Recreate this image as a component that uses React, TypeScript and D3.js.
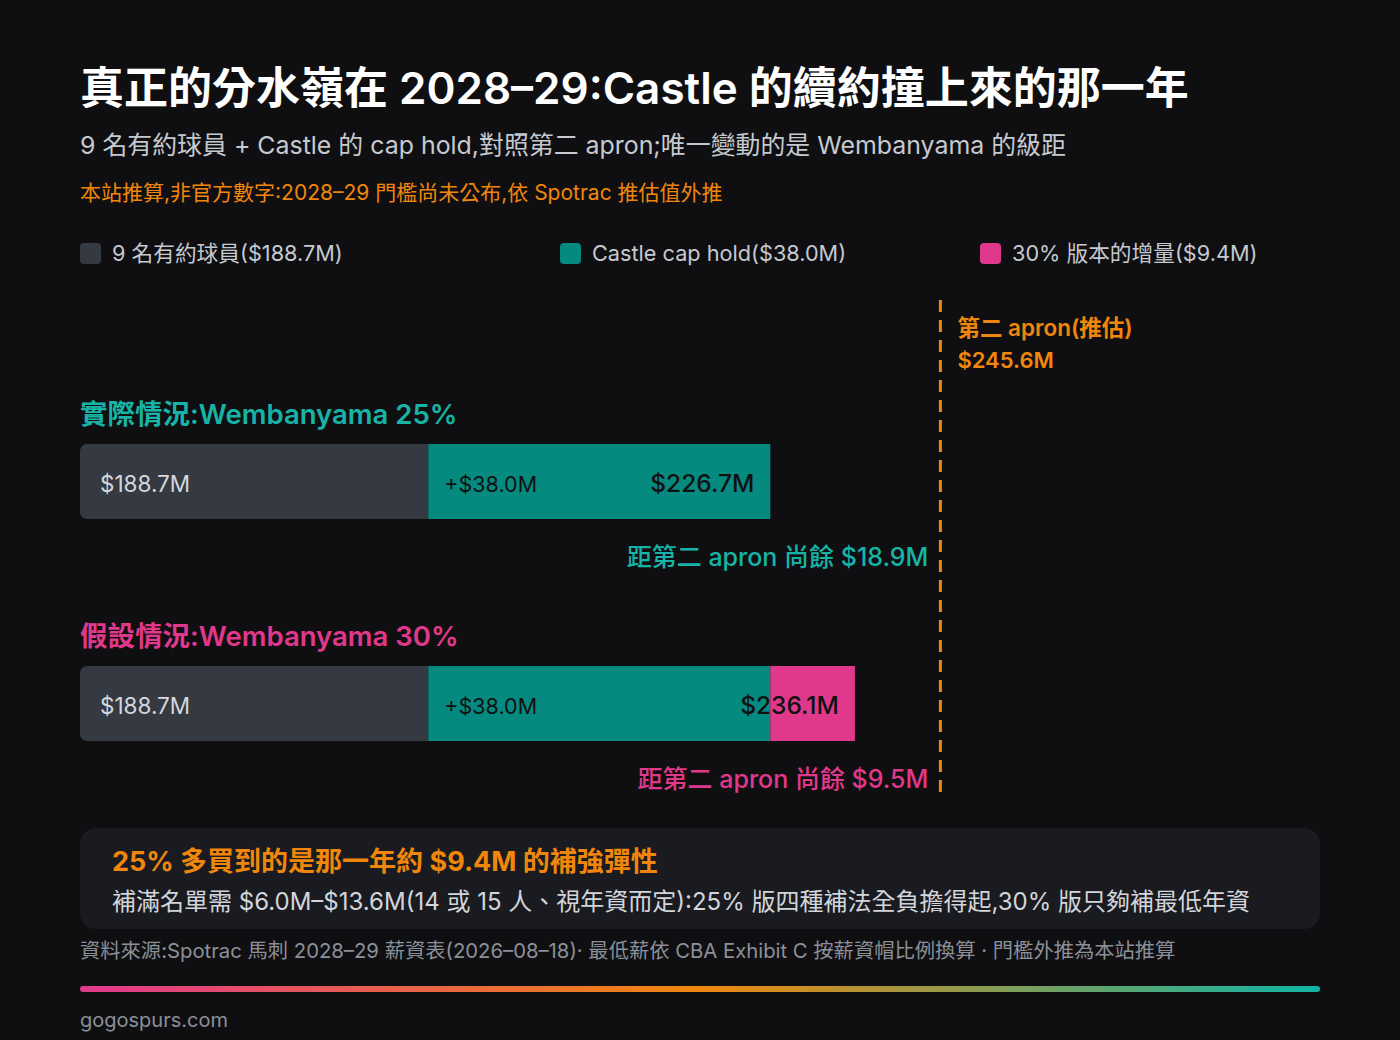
import React from "react";
import * as d3 from "d3";

const scenarios = ["實際情況:Wembanyama 25%", "假設情況:Wembanyama 30%"];
const contracted = [188.7, 188.7];
const castleHold = [38.0, 38.0];
const bump = [0, 9.4];
const totals = [226.7, 236.1];
const remaining = [18.9, 9.5];
const apron = 245.6;
const legendLabels = ["9 名有約球員($188.7M)", "Castle cap hold($38.0M)", "30% 版本的增量($9.4M)"];

const W = 1400, H = 1040;
const FONT = "Inter, 'Noto Sans CJK TC', 'Noto Sans', sans-serif";
const BG = "#0f0f12";
const GRAY = "#353942";
const TEAL = "#058a80";
const TEAL_TXT = "#17b3a6";
const PINK = "#e0398c";
const ORANGE = "#f0870c";

export default function App() {
  const x = d3.scaleLinear().domain([150, 280]).range([80, 1250]);
  const barTop = [444, 666];
  const barH = 75;
  const labelColors = [TEAL_TXT, PINK];
  const legendColors = [GRAY, TEAL, PINK];
  const legendX = [80, 560, 980];
  const x0 = x(150);

  const roundLeft = (x1: number, y: number, w: number, h: number, r: number) => {
    const p = d3.path();
    p.moveTo(x1 + r, y);
    p.lineTo(x1 + w, y);
    p.lineTo(x1 + w, y + h);
    p.lineTo(x1 + r, y + h);
    p.arcTo(x1, y + h, x1, y + h - r, r);
    p.lineTo(x1, y + r);
    p.arcTo(x1, y, x1 + r, y, r);
    p.closePath();
    return p.toString();
  };

  return (
    <svg width={W} height={H} style={{ display: "block", position: "absolute", left: 0, top: 0 }} fontFamily={FONT}>
      <defs>
        <linearGradient id="grad" x1="0" x2="1" y1="0" y2="0">
          <stop offset="0" stopColor={PINK} />
          <stop offset="0.5" stopColor={ORANGE} />
          <stop offset="1" stopColor="#10b5a5" />
        </linearGradient>
      </defs>
      <rect width={W} height={H} fill={BG} />
      <text x={80} y={104} fill="#ffffff" fontSize={44} fontWeight={600}>真正的分水嶺在 2028–29:Castle 的續約撞上來的那一年</text>
      <text x={80} y={154} fill="#c5c9d0" fontSize={24.9}>9 名有約球員 + Castle 的 cap hold,對照第二 apron;唯一變動的是 Wembanyama 的級距</text>
      <text x={80} y={200} fill={ORANGE} fontSize={21}>本站推算,非官方數字:2028–29 門檻尚未公布,依 Spotrac 推估值外推</text>

      {legendLabels.map((l, i) => (
        <g key={i}>
          <rect x={legendX[i]} y={243} width={21} height={21} rx={4} fill={legendColors[i]} />
          <text x={legendX[i] + 32} y={261} fill="#c5c9d0" fontSize={21.7}>{l}</text>
        </g>
      ))}

      {scenarios.map((s, i) => {
        const y = barTop[i];
        return (
          <g key={i}>
            <text x={80} y={y - 20} fill={labelColors[i]} fontSize={27.5} fontWeight={600}>{s}</text>
            <path d={roundLeft(x0, y, x(contracted[i]) - x0, barH, 7)} fill={GRAY} />
            <rect x={x(contracted[i])} y={y} width={x(contracted[i] + castleHold[i]) - x(contracted[i])} height={barH} fill={TEAL} />
            {bump[i] > 0 && (
              <rect x={x(contracted[i] + castleHold[i])} y={y} width={x(totals[i]) - x(contracted[i] + castleHold[i])} height={barH} fill={PINK} />
            )}
            <text x={x0 + 20} y={y + barH / 2 + 10} fill="#d4d7dc" fontSize={22.5}>${contracted[i].toFixed(1)}M</text>
            <text x={x(contracted[i]) + 16} y={y + barH / 2 + 10} fill="#111" fontSize={21.5}>+${castleHold[i].toFixed(1)}M</text>
            <text x={x(totals[i]) - 16} y={y + barH / 2 + 10} fill="#111" fontSize={24.5} fontWeight={500} textAnchor="end">${totals[i].toFixed(1)}M</text>
            <text x={x(apron) - 12} y={y + 122} fill={labelColors[i]} fontSize={25} fontWeight={500} textAnchor="end">距第二 apron 尚餘 ${remaining[i].toFixed(1)}M</text>
          </g>
        );
      })}

      <line x1={x(apron)} x2={x(apron)} y1={300} y2={796} stroke={ORANGE} strokeWidth={3} strokeDasharray="12 8" />
      <text x={x(apron) + 17} y={336} fill={ORANGE} fontSize={22.5} fontWeight={600}>第二 apron(推估)</text>
      <text x={x(apron) + 17} y={368} fill={ORANGE} fontSize={22} fontWeight={600}>${apron.toFixed(1)}M</text>

      <rect x={80} y={828} width={1240} height={101} rx={16} fill="#1a1b20" />
      <text x={112} y={871} fill={ORANGE} fontSize={27} fontWeight={700}>25% 多買到的是那一年約 $9.4M 的補強彈性</text>
      <text x={112} y={910} fill="#d2d5da" fontSize={24}>補滿名單需 $6.0M–$13.6M(14 或 15 人、視年資而定):25% 版四種補法全負擔得起,30% 版只夠補最低年資</text>
      <text x={80} y={958} fill="#8c9098" fontSize={20.3}>資料來源:Spotrac 馬刺 2028–29 薪資表(2026–08–18)· 最低薪依 CBA Exhibit C 按薪資帽比例換算 · 門檻外推為本站推算</text>
      <rect x={80} y={986} width={1240} height={6} rx={3} fill="url(#grad)" />
      <text x={80} y={1027} fill="#8c9098" fontSize={20}>gogospurs.com</text>
    </svg>
  );
}
